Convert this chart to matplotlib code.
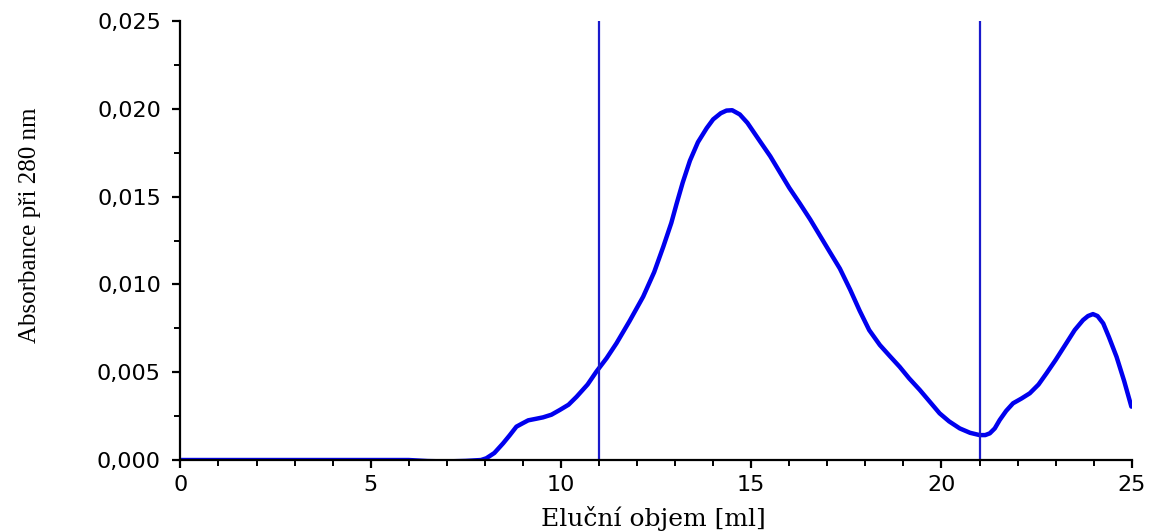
import numpy as np
import matplotlib.pyplot as plt
from matplotlib.ticker import MultipleLocator, FuncFormatter

# elution volume [ml] and absorbance at 280 nm
volume = [0, 1, 2, 3, 4, 5, 6, 6.5, 7, 7.5, 7.9, 8.04, 8.25, 8.48, 8.65, 8.83, 9.0,
          9.14, 9.35, 9.53, 9.75, 9.97, 10.2, 10.41, 10.7, 10.93, 11.2, 11.46,
          11.8, 12.16, 12.45, 12.69, 12.9, 13.04, 13.2, 13.39, 13.6, 13.83, 14.0,
          14.2, 14.35, 14.5, 14.7, 14.9, 15.23, 15.5, 15.75, 16.0, 16.28, 16.55,
          16.8, 17.05, 17.33, 17.6, 17.85, 18.1, 18.38, 18.65, 18.9, 19.15, 19.43,
          19.7, 19.95, 20.2, 20.48, 20.75, 21.0, 21.15, 21.27, 21.4, 21.53, 21.7,
          21.88, 22.1, 22.32, 22.55, 22.76, 23.0, 23.28, 23.5, 23.72, 23.85, 23.98,
          24.1, 24.25, 24.4, 24.6, 24.8, 24.99]
absorbance = [0.0, 0.0, 0.0, 0.0, 0.0, 0.0, 0.0, -0.00006, -0.00008, -0.00005, 0.0,
              0.0001, 0.0004, 0.00095, 0.0014, 0.0019, 0.0021,
              0.00226, 0.00235, 0.00243, 0.00258, 0.00285, 0.00315, 0.0036, 0.0043,
              0.00503, 0.0058, 0.00665,
              0.0079, 0.0093, 0.0107, 0.01215, 0.0135, 0.0146, 0.0158, 0.01705,
              0.0181, 0.01890, 0.0194,
              0.01975, 0.01990, 0.01992, 0.01968, 0.0192, 0.01815, 0.0173,
              0.0164, 0.0155, 0.0146, 0.0137,
              0.0128, 0.0119, 0.0109, 0.0097, 0.0085, 0.0074, 0.00655, 0.0059,
              0.00531, 0.00465, 0.00399,
              0.0033, 0.00266, 0.0022, 0.0018, 0.00155, 0.00142, 0.00142, 0.00152,
              0.0018, 0.00228, 0.0028,
              0.00323, 0.0035, 0.0038, 0.0043, 0.00494, 0.0057, 0.00665, 0.0074,
              0.00797, 0.0082, 0.00831,
              0.0082, 0.00778, 0.0070, 0.00588, 0.0045, 0.00304]
fraction_limits = [11, 21]

fig = plt.figure(figsize=(11.49, 5.32), dpi=100)
ax = fig.add_axes([0.157, 0.1353, 0.828, 0.8252])

ax.plot(volume, absorbance, color='#0000ee', lw=3.2,
        solid_capstyle='round', solid_joinstyle='round')
for v in fraction_limits:
    ax.axvline(v, color='#1a1acc', lw=1.6)

ax.set_xlim(0, 25)
ax.set_ylim(0, 0.025)
ax.xaxis.set_major_locator(MultipleLocator(5))
ax.xaxis.set_minor_locator(MultipleLocator(1))
ax.yaxis.set_major_locator(MultipleLocator(0.005))
ax.yaxis.set_minor_locator(MultipleLocator(0.0025))
ax.yaxis.set_major_formatter(FuncFormatter(lambda v, p: f'{v:.3f}'.replace('.', ',')))

for s in ['top', 'right']:
    ax.spines[s].set_visible(False)
for s in ['left', 'bottom']:
    ax.spines[s].set_linewidth(1.6)
ax.tick_params(which='major', direction='out', length=6, width=1.6, pad=8,
               labelsize=16, labelfontfamily='DejaVu Sans')
ax.tick_params(axis='x', which='major', pad=5)
ax.tick_params(which='minor', direction='out', length=4, width=1.4)

ax.set_xlabel('Eluční objem [ml]', family='DejaVu Serif', fontsize=18)
ax.xaxis.set_label_coords(0.497, -0.105)
ax.set_ylabel('Absorbance při 280 nm', family='Liberation Serif', fontsize=18)
ax.yaxis.set_label_coords(-0.146, 0.535)

fig.savefig('out.png', dpi=100)
